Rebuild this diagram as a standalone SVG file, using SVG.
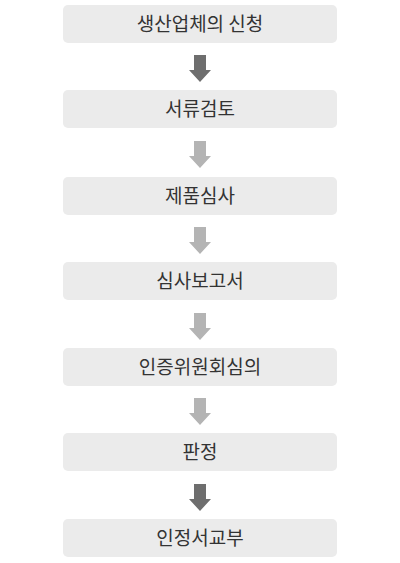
<svg xmlns="http://www.w3.org/2000/svg" width="400" height="563" viewBox="0 0 400 563">
<defs>
<style>
.box{fill:#ebebeb;}
.lbl{font-family:"Noto Sans CJK KR","Noto Sans",sans-serif;font-size:19px;fill:#333;text-anchor:middle;}
.dark{fill:#6e6e6e;}
.light{fill:#b4b4b4;}
</style>
<path id="arr" d="M-6,0 H6 V15 H11 L0,27 L-11,15 H-6 Z"/>
</defs>
<rect width="400" height="563" fill="#fff"/>
<g id="connectors">
<use href="#arr" class="dark" x="200" y="55"/>
<use href="#arr" class="light" x="200" y="141"/>
<use href="#arr" class="light" x="200" y="227"/>
<use href="#arr" class="light" x="200" y="313"/>
<use href="#arr" class="light" x="200" y="398"/>
<use href="#arr" class="dark" x="200" y="484"/>
</g>
<g id="n1"><rect class="box" x="63" y="5" width="274" height="38" rx="5"/><text class="lbl" x="200" y="30.5">생산업체의 신청</text></g>
<g id="n2"><rect class="box" x="63" y="90" width="274" height="38" rx="5"/><text class="lbl" x="200" y="115.5">서류검토</text></g>
<g id="n3"><rect class="box" x="63" y="177" width="274" height="38" rx="5"/><text class="lbl" x="200" y="202.5">제품심사</text></g>
<g id="n4"><rect class="box" x="63" y="262" width="274" height="38" rx="5"/><text class="lbl" x="200" y="287.5">심사보고서</text></g>
<g id="n5"><rect class="box" x="63" y="348" width="274" height="38" rx="5"/><text class="lbl" x="200" y="373.5">인증위원회심의</text></g>
<g id="n6"><rect class="box" x="63" y="433" width="274" height="38" rx="5"/><text class="lbl" x="200" y="458.5">판정</text></g>
<g id="n7"><rect class="box" x="63" y="519" width="274" height="38" rx="5"/><text class="lbl" x="200" y="544.5">인정서교부</text></g>
</svg>
